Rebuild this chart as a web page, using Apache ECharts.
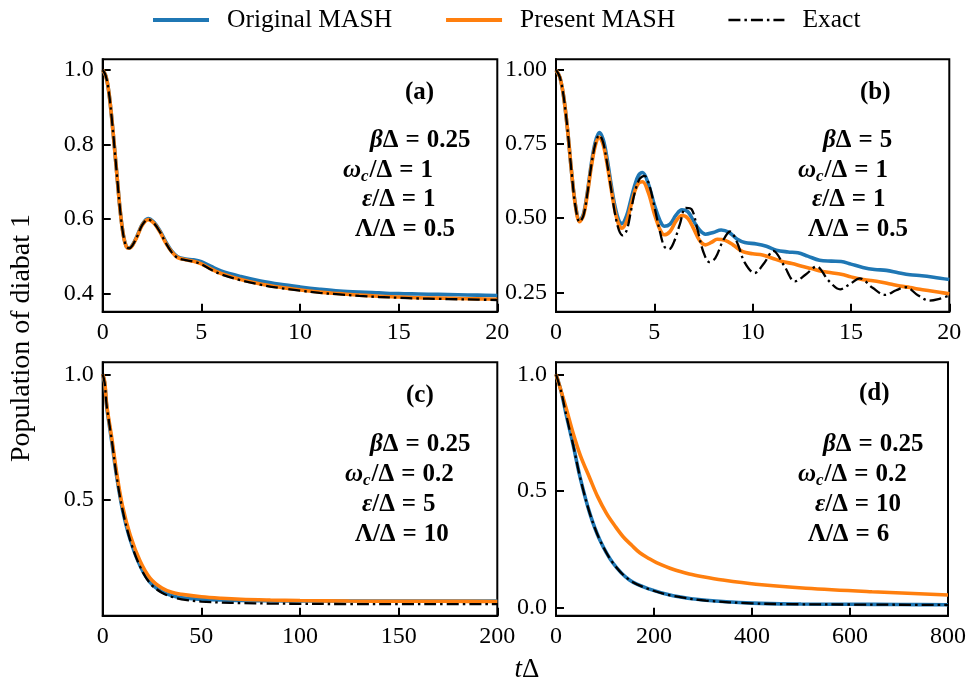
<!DOCTYPE html>
<html><head><meta charset="utf-8">
<script src="https://cdn.jsdelivr.net/npm/echarts@6/dist/echarts.min.js"></script>
<style>html,body{margin:0;padding:0;background:#fff}#c{width:969px;height:682px}</style>
</head><body><div id="c"></div>
<script>
// ---------- data (t, population) ----------
const aExact = [[0,1.000],[0.15,0.985],[0.3,0.945],[0.45,0.875],[0.6,0.79],[0.75,0.70],[0.9,0.615],[1.05,0.555],[1.2,0.525],[1.35,0.521],[1.5,0.528],[1.75,0.553],[2.0,0.583],[2.3,0.598],[2.6,0.588],[2.9,0.565],[3.2,0.535],[3.5,0.510],[3.8,0.495],[4.2,0.489],[4.6,0.485],[5.0,0.478],[5.5,0.463],[6,0.451],[7,0.435],[8,0.423],[9,0.414],[10,0.407],[11,0.401],[12,0.397],[13,0.393],[14,0.390],[15,0.388],[16,0.386],[17,0.385],[18,0.384],[19,0.383],[20,0.382]];
const aOriginal = [[0,1.000],[0.15,0.985],[0.3,0.945],[0.45,0.875],[0.6,0.79],[0.75,0.70],[0.9,0.615],[1.05,0.556],[1.2,0.526],[1.35,0.522],[1.5,0.529],[1.75,0.555],[2.0,0.585],[2.3,0.601],[2.6,0.591],[2.9,0.568],[3.2,0.538],[3.5,0.513],[3.8,0.498],[4.2,0.492],[4.6,0.490],[5.0,0.485],[5.5,0.472],[6,0.460],[7,0.445],[8,0.433],[9,0.424],[10,0.417],[11,0.411],[12,0.406],[13,0.403],[14,0.401],[15,0.399],[16,0.398],[17,0.397],[18,0.396],[19,0.395],[20,0.394]];
const aPresent = [[0,1.000],[0.15,0.985],[0.3,0.945],[0.45,0.875],[0.6,0.79],[0.75,0.70],[0.9,0.615],[1.05,0.555],[1.2,0.525],[1.35,0.521],[1.5,0.528],[1.75,0.553],[2.0,0.583],[2.3,0.598],[2.6,0.588],[2.9,0.565],[3.2,0.535],[3.5,0.511],[3.8,0.496],[4.2,0.490],[4.6,0.486],[5.0,0.479],[5.5,0.465],[6,0.453],[7,0.437],[8,0.425],[9,0.416],[10,0.409],[11,0.403],[12,0.399],[13,0.395],[14,0.392],[15,0.390],[16,0.388],[17,0.387],[18,0.386],[19,0.385],[20,0.384]];

const bExact = [[0,1.0],[0.2,0.975],[0.4,0.905],[0.6,0.79],[0.8,0.65],[1.0,0.535],[1.2,0.487],[1.4,0.51],[1.6,0.585],[1.8,0.68],[2.0,0.75],[2.2,0.78],[2.4,0.755],[2.6,0.685],[2.8,0.6],[3.0,0.515],[3.2,0.46],[3.4,0.442],[3.6,0.46],[3.8,0.52],[4.0,0.585],[4.25,0.632],[4.5,0.643],[4.75,0.61],[5.0,0.54],[5.25,0.465],[5.5,0.405],[5.75,0.395],[6.0,0.42],[6.3,0.48],[6.6,0.535],[6.9,0.53],[7.2,0.46],[7.5,0.385],[7.8,0.352],[8.1,0.365],[8.5,0.425],[8.85,0.455],[9.2,0.42],[9.6,0.35],[10.1,0.315],[10.6,0.35],[11.05,0.39],[11.6,0.34],[12.15,0.287],[12.7,0.31],[13.25,0.337],[13.85,0.29],[14.45,0.26],[14.95,0.278],[15.45,0.297],[16.1,0.265],[16.75,0.241],[17.3,0.257],[17.8,0.267],[18.4,0.24],[19.0,0.222],[19.5,0.228],[20,0.239]];
const bOriginal = [[0,1.0],[0.2,0.975],[0.4,0.905],[0.6,0.79],[0.8,0.65],[1.0,0.54],[1.2,0.492],[1.4,0.515],[1.6,0.59],[1.8,0.685],[2.0,0.757],[2.2,0.789],[2.4,0.765],[2.6,0.7],[2.8,0.615],[3.0,0.54],[3.2,0.492],[3.35,0.481],[3.6,0.51],[3.8,0.56],[4.0,0.61],[4.2,0.645],[4.4,0.654],[4.7,0.615],[5.0,0.545],[5.3,0.49],[5.5,0.473],[5.8,0.48],[6.1,0.51],[6.4,0.528],[6.7,0.522],[7.0,0.49],[7.3,0.46],[7.6,0.446],[8.0,0.452],[8.4,0.46],[8.8,0.452],[9.2,0.43],[9.6,0.418],[10.2,0.413],[10.7,0.405],[11.2,0.392],[11.8,0.386],[12.3,0.383],[12.8,0.372],[13.4,0.358],[14.0,0.355],[14.5,0.354],[15.0,0.345],[15.6,0.334],[16.2,0.327],[16.8,0.324],[17.4,0.316],[18.0,0.309],[18.6,0.306],[19.2,0.301],[20,0.293]];
const bPresent = [[0,1.0],[0.2,0.975],[0.4,0.905],[0.6,0.79],[0.8,0.65],[1.0,0.537],[1.2,0.488],[1.4,0.51],[1.6,0.583],[1.8,0.675],[2.0,0.745],[2.2,0.773],[2.4,0.748],[2.6,0.682],[2.8,0.6],[3.0,0.525],[3.2,0.477],[3.35,0.466],[3.6,0.49],[3.8,0.54],[4.0,0.59],[4.2,0.618],[4.4,0.623],[4.7,0.585],[5.0,0.515],[5.3,0.46],[5.5,0.444],[5.8,0.455],[6.1,0.49],[6.4,0.509],[6.7,0.5],[7.0,0.465],[7.3,0.425],[7.6,0.41],[7.9,0.418],[8.2,0.429],[8.6,0.425],[9.0,0.41],[9.5,0.387],[10.0,0.38],[10.5,0.376],[11.0,0.365],[11.5,0.354],[12.0,0.347],[12.5,0.338],[13.0,0.33],[13.5,0.321],[14.0,0.316],[14.5,0.311],[15.0,0.302],[15.5,0.294],[16.0,0.29],[16.5,0.285],[17.0,0.278],[17.5,0.271],[18.0,0.266],[18.5,0.26],[19.0,0.255],[19.5,0.25],[20,0.245]];

const cExact = [[0,1.0],[1,0.965],[2,0.875],[3,0.82],[4.6,0.737],[7,0.595],[10,0.46],[14,0.335],[19,0.23],[24,0.164],[30,0.126],[35,0.11],[40,0.1],[50,0.091],[60,0.087],[70,0.085],[85,0.083],[100,0.082],[125,0.081],[150,0.081],[175,0.081],[200,0.081]];
const cOriginal = [[0,1.0],[1,0.965],[2,0.872],[3,0.815],[4.6,0.73],[7,0.595],[10,0.46],[14,0.337],[19,0.233],[24,0.168],[30,0.13],[35,0.115],[40,0.106],[50,0.1],[60,0.097],[70,0.095],[85,0.094],[100,0.093],[125,0.093],[150,0.093],[175,0.093],[200,0.093]];
const cPresent = [[0,1.0],[1,0.97],[2,0.88],[3,0.825],[4.6,0.745],[7,0.61],[10,0.475],[14,0.355],[19,0.252],[24,0.185],[30,0.145],[35,0.128],[40,0.12],[50,0.11],[60,0.104],[70,0.1],[85,0.097],[100,0.095],[125,0.093],[150,0.092],[175,0.092],[200,0.091]];

const dExact = [[0,1.0],[10,0.93],[21.7,0.818],[35,0.697],[48.8,0.561],[69,0.403],[89.5,0.289],[116.6,0.189],[150,0.117],[191,0.077],[239,0.049],[306,0.029],[401,0.017],[500,0.013],[600,0.012],[700,0.011],[800,0.01]];
const dOriginal = [[0,1.0],[10,0.93],[21.7,0.818],[35,0.697],[48.8,0.561],[69,0.403],[89.5,0.289],[116.6,0.189],[150,0.117],[191,0.078],[239,0.05],[306,0.03],[401,0.018],[500,0.014],[600,0.013],[700,0.012],[800,0.011]];
const dPresent = [[0,1.0],[20,0.86],[35,0.747],[50,0.65],[69,0.554],[85,0.475],[103,0.403],[120,0.35],[137,0.303],[155,0.265],[171,0.234],[190,0.209],[205,0.192],[240,0.162],[272,0.143],[300,0.131],[340,0.117],[408,0.099],[510,0.082],[645,0.067],[800,0.053]];

// axis ticks
const yTicksA = [0.4, 0.6, 0.8, 1.0];
const yTicksB = [0.25, 0.5, 0.75, 1.0];
const yTicksC = [0.5, 1.0];
const yTicksD = [0.0, 0.5, 1.0];
const xMaxes = [20, 20, 200, 800];
const xSteps = [5, 5, 50, 200];
const yRanges = [[0.3505, 1.0288], [0.1845, 1.036], [0.0344, 1.048], [-0.036, 1.0515]];
const yDecimals = [1, 2, 1, 1];
const seriesNames = ['Original MASH', 'Present MASH', 'Exact'];
const panelLabels = ['(a)', '(b)', '(c)', '(d)'];
const betaVals = ['0.25', '5', '0.25', '0.25'];
const omegaVals = ['1', '1', '0.2', '0.2'];
const epsVals = ['1', '1', '5', '10'];
const lambdaVals = ['0.5', '0.5', '10', '6'];

// ---------- chart ----------
const FONT = '"Liberation Serif", "DejaVu Serif", serif';
const grids = [
  {left: 102.7, top: 59.3, width: 394.6, height: 252.4},
  {left: 556, top: 59.3, width: 393.3, height: 252.4},
  {left: 102.7, top: 362.3, width: 394.6, height: 253.4},
  {left: 556, top: 362.3, width: 393.3, height: 253.4}
];
const yTicks = [yTicksA, yTicksB, yTicksC, yTicksD];
const data = [[aOriginal, aPresent, aExact], [bOriginal, bPresent, bExact], [cOriginal, cPresent, cExact], [dOriginal, dPresent, dExact]];
const colors = ['#1f77b4', '#ff7f0e', '#000000'];
const dashDot = [12, 4, 2.5, 4];

const option = {
  animation: false,
  backgroundColor: '#fff',
  textStyle: {fontFamily: FONT},
  legend: {
    left: 151, top: 7, padding: 0, itemGap: 52, itemWidth: 56, itemHeight: 14,
    data: [
      {name: seriesNames[0], lineStyle: {width: 4, color: colors[0]}},
      {name: seriesNames[1], lineStyle: {width: 4, color: colors[1]}},
      {name: seriesNames[2], lineStyle: {width: 2.5, color: colors[2], type: dashDot}}
    ],
    itemStyle: {opacity: 0},
    textStyle: {fontFamily: FONT, fontSize: 25.5, color: '#000', padding: [0, 0, 0, 13]}
  },
  grid: grids.map(g => Object.assign({show: true, borderColor: '#000', borderWidth: 2, backgroundColor: 'transparent', containLabel: false}, g)),
  xAxis: grids.map((g, i) => ({
    type: 'value', gridIndex: i, min: 0, max: xMaxes[i], interval: xSteps[i],
    axisLine: {show: true, onZero: false, lineStyle: {color: '#000', width: 2}},
    axisTick: {show: true, inside: true, length: 8, lineStyle: {color: '#000', width: 2}},
    axisLabel: {fontFamily: FONT, fontSize: 24, color: '#000', margin: 9, showMinLabel: true, showMaxLabel: true},
    splitLine: {show: false}
  })),
  yAxis: grids.map((g, i) => ({
    type: 'value', gridIndex: i, min: yRanges[i][0], max: yRanges[i][1],
    axisLine: {show: true, onZero: false, lineStyle: {color: '#000', width: 2}},
    axisTick: {show: true, inside: true, length: 8, lineStyle: {color: '#000', width: 2}, customValues: yTicks[i]},
    axisLabel: {fontFamily: FONT, fontSize: 24, color: '#000', margin: 9, customValues: yTicks[i],
      formatter: v => Number(v).toFixed(yDecimals[i])},
    splitLine: {show: false}
  })),
  series: [],
  graphic: []
};

data.forEach((set, p) => {
  set.forEach((d, k) => {
    option.series.push({
      name: seriesNames[k], type: 'line', xAxisIndex: p, yAxisIndex: p, data: d,
      symbol: 'none', smooth: 0.35, z: 2 + k,
      lineStyle: k === 2 ? {color: colors[k], width: 2.3, type: dashDot} : {color: colors[k], width: 3.6},
      itemStyle: {color: colors[k]}
    });
  });
});

const annot = [
  {lab: [405, 93], lines: [[370, 141], [343, 171], [362, 200], [355, 230]]},
  {lab: [860, 93], lines: [[823, 141], [798, 171], [812, 200], [808, 230]]},
  {lab: [406, 396], lines: [[370, 445], [345, 475], [362, 505], [355, 535]]},
  {lab: [859, 394], lines: [[823, 445], [798, 475], [815, 505], [808, 535]]}
];
const FS = 25;
const rich = {
  n: {fontFamily: FONT, fontWeight: 'bold', fontSize: FS, color: '#000'},
  it: {fontFamily: FONT, fontWeight: 'bold', fontStyle: 'italic', fontSize: FS, color: '#000'},
  sub: {fontFamily: FONT, fontWeight: 'bold', fontStyle: 'italic', fontSize: 17, color: '#000', padding: [12, 1, 0, 0]},
  eq: {fontFamily: FONT, fontWeight: 'bold', fontSize: FS, color: '#000', padding: [0, 7, 0, 7]}
};
annot.forEach((a, p) => {
  option.graphic.push({type: 'text', x: a.lab[0], y: a.lab[1], style: {text: panelLabels[p], fontFamily: FONT, fontWeight: 'bold', fontSize: 25, fill: '#000', align: 'left', verticalAlign: 'middle'}});
  const texts = [
    '{it|β}{n|Δ}{eq|=}{n|' + betaVals[p] + '}',
    '{it|ω}{sub|c}{n|/Δ}{eq|=}{n|' + omegaVals[p] + '}',
    '{it|ε}{n|/Δ}{eq|=}{n|' + epsVals[p] + '}',
    '{n|Λ/Δ}{eq|=}{n|' + lambdaVals[p] + '}'
  ];
  texts.forEach((t, j) => {
    option.graphic.push({type: 'text', x: a.lines[j][0], y: a.lines[j][1], style: {text: t, rich: rich, align: 'left', verticalAlign: 'middle'}});
  });
});
option.graphic.push({type: 'text', x: 22, y: 338, rotation: Math.PI / 2,
  style: {text: 'Population of diabat 1', fontFamily: FONT, fontSize: 28, fill: '#000', align: 'center', verticalAlign: 'middle'}});
option.graphic.push({type: 'text', x: 527, y: 670,
  style: {text: '{t|t}{d|Δ}', rich: {t: {fontFamily: FONT, fontStyle: 'italic', fontSize: 27, color: '#000'}, d: {fontFamily: FONT, fontSize: 27, color: '#000'}}, align: 'center', verticalAlign: 'middle'}});

const chart = echarts.init(document.getElementById('c'), null, {renderer: 'canvas'});
chart.setOption(option);
</script>
</body></html>
